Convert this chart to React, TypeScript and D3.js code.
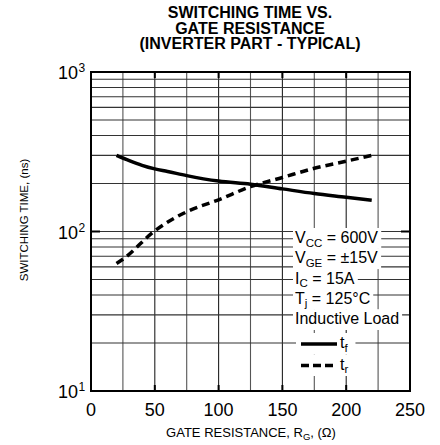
import React, { useEffect, useRef } from 'react';
import * as d3 from 'd3';

// fall time t_f (ns) vs gate resistance (ohm)
const tfR = [20, 30, 40, 50, 60, 75, 100, 125, 150, 175, 200, 220];
const tfNs = [300, 278, 260, 247, 238, 224, 207, 198, 185, 173, 164, 157];
// rise time t_r (ns)
const trR = [20, 25, 50, 75, 100, 125, 150, 175, 200, 220];
const trNs = [63, 67, 101, 133, 158, 191, 218, 249, 276, 300];

const xTicks = [0, 50, 100, 150, 200, 250];
const yDecades = [1, 2, 3];
const titleLines = ['SWITCHING TIME VS.', 'GATE RESISTANCE', '(INVERTER PART - TYPICAL)'];

const FONT = '"Liberation Sans", Arial, Helvetica, sans-serif';

const App = () => {
  const svg = useRef(null);
  const width = 440;
  const height = 445;
  const margin = { top: 72, right: 30, bottom: 54, left: 91 };

  const renderChart = (root: any) => {
    root.selectAll('*').remove();
    const x = d3.scaleLinear().domain([0, 250]).range([margin.left, width - margin.right]);
    const y = d3.scaleLog().domain([10, 1000]).range([height - margin.bottom, margin.top]);
    const x0 = x(0), x1 = x(250), y0 = y(10), y1 = y(1000);

    const grid = root.append('g');
    // vertical grid every 25 ohm
    d3.range(25, 250, 25).forEach((v) => {
      grid.append('line')
        .attr('x1', x(v)).attr('x2', x(v)).attr('y1', y1).attr('y2', y0)
        .attr('stroke', v % 50 === 0 ? '#222' : '#555').attr('stroke-width', 1.1);
    });
    // horizontal log grid
    const yLines: number[] = [];
    [10, 100].forEach((d) => d3.range(1, 10).forEach((k) => { if (d * k > 10) yLines.push(d * k); }));
    yLines.forEach((v) => {
      grid.append('line')
        .attr('x1', x0).attr('x2', x1).attr('y1', y(v)).attr('y2', y(v))
        .attr('stroke', '#333').attr('stroke-width', 1.1);
    });

    // border ticks
    xTicks.slice(1, -1).forEach((v) => {
      [[y1, y1 + 6], [y0, y0 - 6]].forEach(([a, b]) => {
        grid.append('line').attr('x1', x(v)).attr('x2', x(v)).attr('y1', a).attr('y2', b)
          .attr('stroke', '#000').attr('stroke-width', 2);
      });
    });
    [x0, x1].forEach((xx, i) => {
      grid.append('line').attr('x1', xx).attr('x2', i === 0 ? xx + 9 : xx - 9)
        .attr('y1', y(100)).attr('y2', y(100)).attr('stroke', '#000').attr('stroke-width', 2);
    });

    // legend (white boxes knock out the grid)
    const legend = root.append('g').attr('font-family', FONT).attr('font-size', 16);
    const lx = 295;
    const rows = [
      { main: 'V', sub: 'CC', rest: ' = 600V' },
      { main: 'V', sub: 'GE', rest: ' = \u00b115V' },
      { main: 'I', sub: 'C', rest: ' = 15A' },
      { main: 'T', sub: 'j', rest: ' = 125\u00b0C' },
      { main: 'Inductive Load', sub: '', rest: '' },
    ];
    const rowGap = 20.3;
    const base0 = 243;
    const bgLayer = legend.append('g');
    rows.forEach((r, i) => {
      const t = legend.append('text').attr('x', lx).attr('y', base0 + i * rowGap);
      t.append('tspan').text(r.main);
      if (r.sub) t.append('tspan').attr('font-size', 11.5).attr('dy', 3.5).text(r.sub);
      if (r.rest) t.append('tspan').attr('dy', r.sub ? -3.5 : 0).text(r.rest);
      const b = t.node().getBBox();
      bgLayer.append('rect')
        .attr('x', b.x - 2).attr('y', base0 + i * rowGap - 15).attr('width', b.width + 5)
        .attr('height', rowGap + 0.5).attr('fill', '#fff');
    });
    const series = [
      { label: 'f', dash: null, yy: 344 },
      { label: 'r', dash: '8,4', yy: 365.5 },
    ];
    series.forEach((s) => {
      const g = legend.append('g');
      g.append('line').attr('x1', lx + 6).attr('x2', lx + 42).attr('y1', s.yy).attr('y2', s.yy)
        .attr('stroke', '#000').attr('stroke-width', 3.4).attr('stroke-dasharray', s.dash);
      const t = g.append('text').attr('x', lx + 45).attr('y', s.yy + 4);
      t.append('tspan').text('t');
      t.append('tspan').attr('font-size', 11.5).attr('dy', 3.5).text(s.label);
      const b = g.node().getBBox();
      bgLayer.append('rect').attr('x', b.x - 5).attr('y', s.yy - 11).attr('width', b.width + 12)
        .attr('height', 21.5).attr('fill', '#fff');
    });

    // curves
    const line = d3.line<[number, number]>()
      .x((d) => x(d[0])).y((d) => y(d[1])).curve(d3.curveMonotoneX);
    root.append('path').datum(tfR.map((r, i) => [r, tfNs[i]] as [number, number]))
      .attr('d', line).attr('fill', 'none').attr('stroke', '#000').attr('stroke-width', 3.5);
    root.append('path').datum(trR.map((r, i) => [r, trNs[i]] as [number, number]))
      .attr('d', line).attr('fill', 'none').attr('stroke', '#000').attr('stroke-width', 3.5)
      .attr('stroke-dasharray', '8,5');

    // frame
    root.append('rect').attr('x', x0).attr('y', y1).attr('width', x1 - x0).attr('height', y0 - y1)
      .attr('fill', 'none').attr('stroke', '#000').attr('stroke-width', 2);

    // tick labels
    const labels = root.append('g').attr('font-family', FONT).attr('fill', '#000');
    xTicks.forEach((v) => {
      labels.append('text').attr('x', x(v)).attr('y', 416).attr('text-anchor', 'middle')
        .attr('font-size', 18).text(v);
    });
    yDecades.forEach((p) => {
      const yy = y(Math.pow(10, p)) + 7;
      labels.append('text').attr('x', 78).attr('y', yy).attr('text-anchor', 'end')
        .attr('font-size', 18).text('10');
      labels.append('text').attr('x', 78.5).attr('y', yy - 7).attr('font-size', 12).text(p);
    });

    // axis titles
    const xt = labels.append('text').attr('x', 251).attr('y', 437).attr('text-anchor', 'middle')
      .attr('font-size', 13);
    xt.append('tspan').text('GATE RESISTANCE, R');
    xt.append('tspan').attr('font-size', 9.5).attr('dy', 3).text('G');
    xt.append('tspan').attr('dy', -3).text(', (\u03a9)');
    labels.append('text').attr('transform', 'translate(28,220) rotate(-90)')
      .attr('text-anchor', 'middle').attr('font-size', 11.5).text('SWITCHING TIME, (ns)');

    // title
    titleLines.forEach((t, i) => {
      labels.append('text').attr('x', 250).attr('y', 18 + i * 15.6).attr('text-anchor', 'middle')
        .attr('font-size', 16).attr('font-weight', 'bold').text(t);
    });
  };

  useEffect(() => {
    renderChart(d3.select(svg.current));
  }, []);

  return (
    <svg
      ref={svg}
      width={width}
      height={height}
      style={{ position: 'absolute', left: 0, top: 0, background: '#fff' }}
    />
  );
};

export default App;
